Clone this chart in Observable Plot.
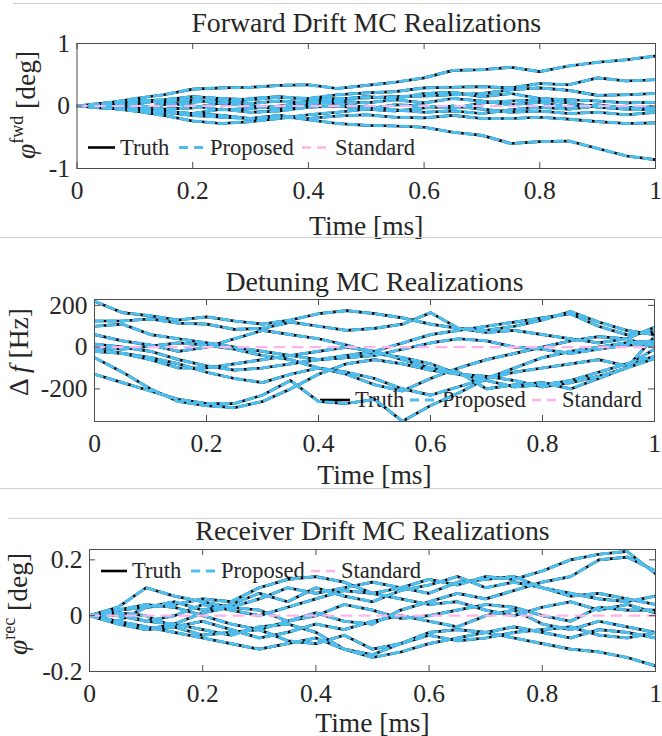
<!DOCTYPE html>
<html><head><meta charset="utf-8">
<script src="https://cdn.jsdelivr.net/npm/d3@7"></script>
<script src="https://cdn.jsdelivr.net/npm/@observablehq/plot@0.6"></script>
<style>
body{margin:0;background:#fff;}
#root{position:relative;width:662px;height:736px;overflow:hidden;background:#fff;}
#root svg{position:absolute;left:0;}
.sep{position:absolute;height:1px;background:#cfcfcf;}
</style></head><body><div id="root"></div>
<script>
// ---- data ----
const time = [0,0.05,0.1,0.15,0.2,0.25,0.3,0.35,0.4,0.45,0.5,0.55,0.6,0.65,0.7,0.75,0.8,0.85,0.9,0.95,1];
const xTicks = [0,0.2,0.4,0.6,0.8,1];
const seriesNames = ["Truth","Proposed","Standard"];

const fwdRealizations = [
  [0,0.04,0.12,0.18,0.27,0.29,0.30,0.33,0.34,0.28,0.33,0.38,0.45,0.57,0.58,0.62,0.55,0.64,0.70,0.74,0.80],
  [0,0.03,0.08,0.10,0.15,0.12,0.10,0.14,0.12,0.18,0.21,0.23,0.29,0.30,0.31,0.29,0.36,0.34,0.45,0.40,0.42],
  [0,-0.02,0.05,0.08,0.10,0.05,0.12,0.15,0.10,0.12,0.13,0.15,0.16,0.18,0.20,0.26,0.29,0.25,0.17,0.18,0.20],
  [0,0.03,-0.05,0.02,0.06,0.10,0.04,0.08,0.05,0.10,0.15,0.12,0.20,0.22,0.15,0.20,0.12,0.10,0.08,0.05,0.06],
  [0,-0.04,0.02,-0.05,-0.03,0.05,0.00,-0.05,0.02,0.08,0.05,0.10,0.05,0.12,0.08,0.02,0.06,-0.02,0.02,-0.04,-0.01],
  [0,0.02,-0.08,-0.10,-0.12,-0.05,-0.10,-0.08,-0.02,0.00,-0.05,0.02,0.00,-0.04,0.05,0.08,0.10,0.05,-0.02,-0.05,-0.06],
  [0,-0.02,-0.08,-0.15,-0.24,-0.28,-0.25,-0.20,-0.14,-0.10,-0.05,-0.08,-0.03,0.00,-0.05,-0.10,-0.08,-0.12,-0.10,-0.14,-0.10],
  [0,-0.03,-0.08,-0.10,-0.15,-0.18,-0.20,-0.18,-0.20,-0.16,-0.14,-0.18,-0.19,-0.15,-0.20,-0.20,-0.18,-0.21,-0.25,-0.28,-0.27],
  [0,0.02,-0.04,-0.08,-0.12,-0.15,-0.20,-0.15,-0.22,-0.28,-0.31,-0.32,-0.34,-0.42,-0.47,-0.60,-0.57,-0.56,-0.68,-0.80,-0.86],
  [0,0.05,0.10,0.05,0.00,-0.06,-0.04,0.00,0.06,0.04,-0.02,-0.06,-0.10,-0.08,-0.12,-0.06,-0.02,-0.05,0.00,-0.02,-0.03]
];
const fwdYDomain = [-1, 1];
const fwdYTicks = [-1, 0, 1];

const detRealizations = [
  [220,165,150,130,145,125,110,130,160,175,160,140,110,90,80,100,130,170,120,80,60],
  [125,125,135,115,110,85,90,120,100,80,90,110,165,90,70,80,60,40,20,40,95],
  [100,110,60,40,20,0,-20,-40,-60,-40,-20,20,60,80,100,120,140,160,100,60,75],
  [60,30,10,-20,0,40,80,60,40,10,-30,-50,-80,-130,-160,-190,-180,-160,-120,-80,-45],
  [15,0,-20,-60,-90,-110,-100,-80,-60,-50,-40,-10,20,40,30,0,-10,-30,-10,10,15],
  [0,-10,5,20,10,-10,-40,-60,-100,-120,-150,-200,-230,-190,-150,-120,-100,-80,-60,-90,-10],
  [-10,-30,-60,-100,-100,-80,-60,-40,-20,0,-20,-60,-100,-120,-200,-180,-170,-200,-150,-100,-55],
  [-50,-120,-200,-260,-280,-290,-260,-200,-130,-80,-60,-80,-110,-130,-140,-160,-190,-170,-140,-100,50],
  [-130,-170,-210,-250,-270,-270,-230,-160,-260,-270,-250,-355,-280,-220,-150,-100,-50,-20,0,20,30],
  [-20,-30,-50,-80,-120,-150,-170,-130,-100,-130,-180,-210,-150,-100,-60,-30,0,30,50,40,0]
];
const detYDomain = [-356, 228];
const detYTicks = [-200, 0, 200];

const recRealizations = [
  [0,0.03,0.10,0.07,0.05,0.03,0.06,0.10,0.08,0.10,0.12,0.10,0.13,0.11,0.14,0.13,0.16,0.20,0.22,0.23,0.15],
  [0,0.02,0.03,0.04,0.06,0.05,0.10,0.13,0.14,0.12,0.08,0.10,0.08,0.12,0.13,0.14,0.10,0.08,0.06,0.05,0.07],
  [0,-0.02,0.03,0.05,0.02,0.04,0.08,0.05,0.10,0.07,0.05,0.09,0.11,0.14,0.10,0.12,0.10,0.07,0.08,0.06,0.04],
  [0,0.01,-0.02,0.00,0.04,0.02,0.00,0.03,0.06,0.09,0.08,0.06,0.04,0.05,0.02,0.00,0.03,0.05,0.02,0.04,0.01],
  [0,-0.03,-0.05,-0.03,0.01,0.03,0.02,-0.02,0.00,0.04,0.02,-0.01,0.00,0.02,0.04,0.03,0.00,-0.02,0.03,0.02,0.02],
  [0,0.01,0.00,-0.04,-0.02,-0.05,-0.08,-0.06,-0.03,-0.05,-0.02,0.00,-0.02,-0.04,0.00,0.02,-0.03,-0.05,-0.02,-0.04,-0.06],
  [0,-0.02,-0.04,-0.06,-0.08,-0.10,-0.12,-0.10,-0.08,-0.12,-0.14,-0.10,-0.06,-0.05,-0.06,-0.04,-0.06,-0.08,-0.05,-0.06,-0.08],
  [0,-0.02,-0.05,-0.04,-0.07,-0.06,-0.05,-0.09,-0.10,-0.07,-0.12,-0.10,-0.07,-0.09,-0.08,-0.06,-0.05,-0.04,-0.07,-0.08,-0.06],
  [0,0.00,-0.02,-0.03,-0.05,-0.07,-0.04,-0.03,-0.06,-0.12,-0.15,-0.13,-0.10,-0.08,-0.06,-0.08,-0.10,-0.12,-0.13,-0.15,-0.18],
  [0,0.02,0.04,0.03,0.00,-0.03,-0.05,-0.02,0.01,-0.02,-0.03,0.02,0.05,0.08,0.06,0.09,0.12,0.14,0.20,0.21,0.16]
];
const recYDomain = [-0.2, 0.237];
const recYTicks = [-0.2, 0, 0.2];

const standardLevel = 0;

// ---- styling ----
const FONT = "'Liberation Serif','Times New Roman',serif";
const TEXT = "#262626";
const AXIS = "#4d4d4d";
const BLACK = "#000000";
const CYAN = "#4DBEEE";
const PINK = "#FFB3E8";
const root = document.getElementById("root");

function panel(o) {
  const W = 662;
  const plotW = W - o.marginLeft - o.marginRight;
  const plotH = o.height - o.marginTop - o.marginBottom;
  const rows = o.series.flatMap((vals, k) => vals.map((v, i) => ({t: time[i], v, k})));
  const svg = Plot.plot({
    width: W, height: o.height,
    marginLeft: o.marginLeft, marginRight: o.marginRight, marginTop: o.marginTop, marginBottom: o.marginBottom,
    style: {background: "transparent", fontFamily: FONT, color: TEXT, overflow: "visible"},
    x: {domain: [0, 1]},
    y: {domain: o.yDomain},
    marks: [
      Plot.line(rows, {x: "t", y: "v", z: "k", stroke: BLACK, strokeWidth: 2.7, clip: true}),
      Plot.line(rows, {x: "t", y: "v", z: "k", stroke: CYAN, strokeWidth: 3, strokeDasharray: "8,5", clip: true}),
      Plot.line(time, {x: d => d, y: () => standardLevel, stroke: PINK, strokeWidth: 2.2, strokeDasharray: "10,8"}),
      Plot.frame({stroke: AXIS, strokeWidth: 1}),
      Plot.ruleX(xTicks, {x: d => d, insetTop: plotH - 6, stroke: AXIS}),
      Plot.ruleX(xTicks, {x: d => d, insetBottom: plotH - 6, stroke: AXIS}),
      Plot.ruleY(o.yTicks, {y: d => d, insetRight: plotW - 6, stroke: AXIS}),
      Plot.ruleY(o.yTicks, {y: d => d, insetLeft: plotW - 6, stroke: AXIS}),
      Plot.axisX({ticks: xTicks, tickSize: 0, tickPadding: 12, fontSize: 25.5, tickFormat: d => String(d), label: null}),
      Plot.axisY({ticks: o.yTicks, tickSize: 0, tickPadding: 7, fontSize: 25.5, tickFormat: d => String(d), label: null}),
      Plot.text([o.title], {text: d => d, frameAnchor: "top", lineAnchor: "middle", dy: o.titleDy, fontSize: 27.8, fill: TEXT}),
      Plot.text(["Time [ms]"], {text: d => d, frameAnchor: "bottom", lineAnchor: "middle", dy: o.xlabelDy, fontSize: 27.5, fill: TEXT})
    ]
  });
  svg.style.top = o.top + "px";
  const g = d3.select(svg);
  // y label with superscript
  const lab = g.append("text")
    .attr("transform", `translate(${o.ylabel.x},${o.ylabel.y - o.top}) rotate(-90)`)
    .attr("text-anchor", "middle").attr("font-size", 27.5).attr("fill", TEXT).attr("font-family", FONT);
  o.ylabel.parts.forEach(p => {
    const ts = lab.append("tspan").text(p.text);
    if (p.italic) ts.attr("font-style", "italic");
    if (p.size) ts.attr("font-size", p.size);
    if (p.dy) ts.attr("dy", p.dy);
  });
  // legend (drawn under the lines)
  const lg = g.insert("g", ":first-child").attr("font-family", FONT).attr("font-size", 22.5)
    .attr("fill", TEXT).attr("text-anchor", "start");
  const L = o.legend;
  const sy = L.y - o.top, ty = L.baseline - o.top;
  const styles = [
    {stroke: BLACK, w: 2.6, dash: null},
    {stroke: CYAN, w: 2.8, dash: "9,6"},
    {stroke: PINK, w: 2.4, dash: "9,6"}
  ];
  seriesNames.forEach((name, i) => {
    lg.append("line").attr("x1", L.samples[i][0]).attr("x2", L.samples[i][1]).attr("y1", sy).attr("y2", sy)
      .attr("stroke", styles[i].stroke).attr("stroke-width", styles[i].w).attr("stroke-dasharray", styles[i].dash);
    lg.append("text").attr("x", L.texts[i]).attr("y", ty).attr("text-anchor", "start").text(name);
  });
  root.appendChild(svg);
}

panel({
  top: 0, height: 250, marginLeft: 76.5, marginRight: 7, marginTop: 43, marginBottom: 82,
  yDomain: fwdYDomain, yTicks: fwdYTicks, series: fwdRealizations,
  title: "Forward Drift MC Realizations", titleDy: -20, xlabelDy: 58,
  ylabel: {x: 35, y: 105, parts: [{text: "φ", italic: true}, {text: "fwd", size: 18, dy: -12}, {text: " [deg]", dy: 12}]},
  legend: {y: 147.5, baseline: 155, samples: [[88,115],[179,205],[302,327]], texts: [120,210,335]}
});
panel({
  top: 250, height: 238, marginLeft: 94, marginRight: 8, marginTop: 49, marginBottom: 67,
  yDomain: detYDomain, yTicks: detYTicks, series: detRealizations,
  title: "Detuning MC Realizations", titleDy: -17, xlabelDy: 54,
  ylabel: {x: 28, y: 352, parts: [{text: "Δ "}, {text: "f", italic: true}, {text: " [Hz]"}]},
  legend: {y: 400, baseline: 407, samples: [[320,350],[410,438],[532,557]], texts: [355,442,562]}
});
panel({
  top: 500, height: 236, marginLeft: 89, marginRight: 7, marginTop: 49, marginBottom: 65,
  yDomain: recYDomain, yTicks: recYTicks, series: recRealizations,
  title: "Receiver Drift MC Realizations", titleDy: -18, xlabelDy: 52,
  ylabel: {x: 27, y: 604, parts: [{text: "φ", italic: true}, {text: "rec", size: 18, dy: -12}, {text: " [deg]", dy: 12}]},
  legend: {y: 571, baseline: 577.5, samples: [[101,127],[191,217],[311,337]], texts: [132,221,341]}
});

// light separators between the stacked figures
[[3, 13], [237, 0], [488, 0], [518, 8]].forEach(([y, x]) => {
  const d = document.createElement("div");
  d.className = "sep";
  d.style.top = y + "px"; d.style.left = x + "px"; d.style.width = (662 - x) + "px";
  root.appendChild(d);
});
</script></body></html>
